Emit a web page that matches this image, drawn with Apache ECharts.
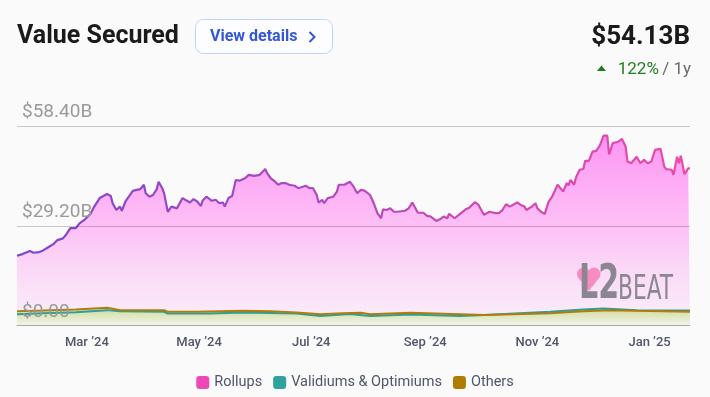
<!DOCTYPE html>
<html><head><meta charset="utf-8">
<script src="https://cdn.jsdelivr.net/npm/echarts@6/dist/echarts.min.js"></script>
<style>html,body{margin:0;padding:0;background:#fafafa;}#c{width:710px;height:397px;}</style>
</head><body><div id="c"></div>
<script>
// ---- data ----
const startDate = '2024-01-23';
const endDate = '2025-01-23';
const tickDates = ['2024-03-01','2024-05-01','2024-07-01','2024-09-01','2024-11-01','2025-01-01'];
const tickLabels = ['Mar \u201924','May \u201924','Jul \u201924','Sep \u201924','Nov \u201924','Jan \u201925'];
const yStep = 29.2;
const yMax = 58.4;
const yLabels = ['$0.00','$29.20B','$58.40B'];
const seriesNames = ['Rollups','Validiums & Optimiums','Others'];

const rollupDates = ['2024-01-23','2024-01-26','2024-01-30','2024-02-01','2024-02-04','2024-02-06','2024-02-09','2024-02-12','2024-02-14','2024-02-17',
'2024-02-19','2024-02-21','2024-02-24','2024-02-26','2024-02-29','2024-03-03','2024-03-05','2024-03-08','2024-03-10','2024-03-12',
'2024-03-14','2024-03-15','2024-03-17','2024-03-19','2024-03-20','2024-03-22','2024-03-23','2024-03-26','2024-03-28','2024-03-30',
'2024-04-01','2024-04-02','2024-04-04','2024-04-06','2024-04-08','2024-04-09','2024-04-11','2024-04-12','2024-04-14','2024-04-16',
'2024-04-19','2024-04-22','2024-04-23','2024-04-26','2024-04-28','2024-04-30','2024-05-02','2024-05-03','2024-05-05','2024-05-08',
'2024-05-10','2024-05-12','2024-05-14','2024-05-15','2024-05-17','2024-05-19','2024-05-21','2024-05-23','2024-05-26','2024-05-28',
'2024-05-31','2024-06-03','2024-06-06','2024-06-07','2024-06-09','2024-06-11','2024-06-13','2024-06-15','2024-06-17','2024-06-19',
'2024-06-22','2024-06-24','2024-06-28','2024-06-30','2024-07-02','2024-07-04','2024-07-05','2024-07-07','2024-07-08','2024-07-10',
'2024-07-13','2024-07-15','2024-07-16','2024-07-19','2024-07-22','2024-07-24','2024-07-26','2024-07-28','2024-07-30','2024-08-02',
'2024-08-04','2024-08-06','2024-08-08','2024-08-09','2024-08-11','2024-08-13','2024-08-15','2024-08-17','2024-08-21','2024-08-23',
'2024-08-25','2024-08-26','2024-08-28','2024-08-31','2024-09-02','2024-09-04','2024-09-07','2024-09-09','2024-09-11','2024-09-13',
'2024-09-14','2024-09-17','2024-09-20','2024-09-23','2024-09-25','2024-09-28','2024-09-30','2024-10-02','2024-10-03','2024-10-06',
'2024-10-09','2024-10-11','2024-10-13','2024-10-15','2024-10-17','2024-10-21','2024-10-23','2024-10-25','2024-10-26','2024-10-29',
'2024-10-31','2024-11-01','2024-11-03','2024-11-05','2024-11-07','2024-11-09','2024-11-12','2024-11-14','2024-11-15','2024-11-17',
'2024-11-18','2024-11-19','2024-11-21','2024-11-22','2024-11-24','2024-11-26','2024-11-27','2024-11-29','2024-12-01','2024-12-03',
'2024-12-05','2024-12-07','2024-12-09','2024-12-10','2024-12-11','2024-12-12','2024-12-15','2024-12-17','2024-12-19','2024-12-20',
'2024-12-22','2024-12-25','2024-12-26','2024-12-27','2024-12-29','2024-12-31','2025-01-02','2025-01-04','2025-01-07','2025-01-09',
'2025-01-10','2025-01-13','2025-01-14','2025-01-16','2025-01-17','2025-01-18','2025-01-20','2025-01-22','2025-01-23'];
const rollupValues = [20.4,20.9,21.8,21.3,21.5,21.9,22.9,23.9,25.0,25.5,
26.8,28.5,28.5,29.9,31.1,32.7,34.8,37.3,37.9,38.5,
37.9,35.8,33.8,34.8,33.6,36.3,35.8,39.4,39.7,39.9,
41.2,38.7,37.7,38.2,39.9,42.1,40.2,38.7,33.3,34.8,
34.3,37.3,37.6,36.0,37.0,36.3,35.0,36.6,37.7,36.5,
36.8,35.8,36.0,34.8,37.3,37.9,42.6,42.4,43.1,44.1,
43.8,44.1,45.8,44.6,43.1,42.3,41.2,41.7,41.7,41.2,
40.9,40.2,40.9,40.2,40.2,38.2,36.0,36.8,35.8,37.3,
37.7,39.2,41.2,41.2,42.1,40.7,38.7,39.7,39.5,38.2,
35.8,32.9,31.4,34.0,33.8,34.3,33.3,33.3,33.6,34.3,
36.0,35.0,33.0,33.0,32.1,31.9,30.6,31.1,31.9,31.4,
32.7,31.4,32.7,34.0,34.5,36.1,35.3,33.3,32.4,33.3,
32.9,32.9,33.8,35.5,34.8,36.0,35.3,34.8,33.8,34.8,
35.8,34.3,33.3,32.6,36.1,37.7,41.2,39.9,39.2,41.7,
41.0,42.6,41.2,43.3,45.6,45.8,48.2,48.2,50.9,51.1,
52.7,55.6,55.6,50.1,49.7,53.4,53.8,54.6,52.4,48.0,
47.5,49.4,49.4,47.5,48.5,47.5,48.0,51.4,51.7,46.5,
45.8,45.6,44.1,49.4,47.5,49.7,44.3,46.0,46.0];

const validiumDates = ['2024-01-23','2024-02-06','2024-02-24','2024-03-12','2024-03-19','2024-04-12','2024-04-14','2024-05-07','2024-05-25','2024-06-23',
'2024-07-06','2024-07-22','2024-08-02','2024-08-24','2024-09-20','2024-10-03','2024-11-08','2024-11-26','2024-12-07','2024-12-25','2025-01-23'];
const validiumValues = [3.3,3.6,3.9,4.5,4.2,4.0,3.5,3.5,3.8,3.5,
2.8,3.4,2.8,3.2,2.8,3.1,4.0,4.7,5.0,4.5,4.4];

const othersDates = ['2024-01-23','2024-02-06','2024-02-24','2024-03-12','2024-03-15','2024-03-19','2024-04-01','2024-04-12','2024-04-14','2024-04-30',
'2024-05-25','2024-06-09','2024-06-23','2024-07-06','2024-07-18','2024-07-28','2024-08-02','2024-08-24','2024-09-20','2024-10-03',
'2024-11-08','2024-11-26','2024-12-10','2024-12-25','2025-01-23'];
const othersValues = [4.2,4.4,4.7,5.2,4.9,4.5,4.5,4.5,4.0,4.0,
4.3,4.2,3.8,3.3,3.6,3.7,3.3,3.7,3.3,3.1,
3.6,4.2,4.5,4.3,4.0];

// ---- helpers ----
function ts(s){const p=s.split('-');return new Date(+p[0],+p[1]-1,+p[2]).getTime();}
function pairs(ds,vs){return ds.map((d,i)=>[ts(d),vs[i]]);}
const tickTs = tickDates.map(ts);

const chart = echarts.init(document.getElementById('c'), null, {renderer:'canvas'});
const greenArea = {type:'linear',x:0,y:0,x2:0,y2:1,colorStops:[{offset:0,color:'rgba(208,218,150,1)'},{offset:1,color:'rgba(238,246,232,1)'}]};

const option = {
  backgroundColor:'#fafafa',
  animation:false,
  textStyle:{fontFamily:'Roboto'},
  grid:{left:17,right:20,top:126,bottom:71.5},
  xAxis:{
    type:'value', min:ts(startDate), max:ts(endDate),
    axisLine:{show:true,onZero:false,lineStyle:{color:'#c2c2c2',width:1}},
    axisTick:{show:false},
    splitLine:{show:false},
    axisLabel:{customValues:tickTs, formatter:function(v){const i=tickTs.indexOf(v);return i>=0?tickLabels[i]:'';},
      color:'#50566a', fontSize:13, fontWeight:500, margin:11, fontFamily:'Roboto'}
  },
  yAxis:{
    type:'value', min:0, max:yMax, interval:yStep, z:5,
    axisLine:{show:false}, axisTick:{show:false},
    splitLine:{lineStyle:{color:'rgba(0,0,0,0.2)',width:1}},
    axisLabel:{inside:true, verticalAlign:'bottom', margin:5, padding:[0,0,4,0], color:'#9a9a9a', fontSize:19, fontFamily:'Roboto',
      formatter:function(v){return yLabels[Math.round(v/yStep)];}}
  },
  legend:{
    data:seriesNames, left:'center', top:370, icon:'roundRect', itemWidth:13, itemHeight:13, itemGap:11,
    textStyle:{fontSize:14.5, color:'#50566a', fontFamily:'Roboto'}
  },
  series:[
    {name:'Rollups', type:'line', data:pairs(rollupDates,rollupValues), symbol:'none', z:2,
      itemStyle:{color:'#ee47b6'},
      lineStyle:{width:2.2, color:{type:'linear',x:0,y:0,x2:1,y2:0,colorStops:[{offset:0,color:'#7b47cf'},{offset:0.5,color:'#b44abe'},{offset:1,color:'#ee4aa7'}]}},
      areaStyle:{color:{type:'linear',x:0,y:0,x2:0,y2:1,colorStops:[{offset:0,color:'rgba(255,96,240,0.95)'},{offset:0.5,color:'rgba(255,150,242,0.8)'},{offset:1,color:'rgba(248,200,244,0.35)'}]}}
    },
    {type:'line', data:pairs(othersDates,othersValues), symbol:'none', z:3, lineStyle:{width:0}, itemStyle:{color:'#b07d0a'}, areaStyle:{color:greenArea}},
    {type:'line', data:pairs(validiumDates,validiumValues), symbol:'none', z:3, lineStyle:{width:0}, itemStyle:{color:'#2a9f9b'}, areaStyle:{color:greenArea}},
    {name:'Validiums & Optimiums', type:'line', data:pairs(validiumDates,validiumValues), symbol:'none', z:4,
      itemStyle:{color:'#2fa29e'}, lineStyle:{width:2,color:'#2a9f9b'}},
    {name:'Others', type:'line', data:pairs(othersDates,othersValues), symbol:'none', z:4,
      itemStyle:{color:'#b07c00'}, lineStyle:{width:2,color:'#b07d0a'}}
  ],
  graphic:[
    {type:'text', x:17, y:37, z:100, style:{text:'Value Secured', font:'bold 25px Roboto', fill:'#1a1a1a', verticalAlign:'middle'}},
    {type:'rect', x:195.5, y:19.5, z:100, shape:{width:137,height:34,r:8}, style:{fill:'#fdfdff', stroke:'#bfd2fa', lineWidth:1}},
    {type:'text', x:210, y:37, z:101, style:{text:'View details', font:'bold 16px Roboto', fill:'#3457d5', verticalAlign:'middle'}},
    {type:'polyline', z:101, shape:{points:[[309.5,32],[314.5,37],[309.5,42]]}, style:{stroke:'#3457d5', lineWidth:2, fill:null}},
    {type:'text', x:690, y:37, z:100, style:{text:'$54.13B', font:'bold 26px Roboto', fill:'#1a1a1a', align:'right', verticalAlign:'middle'}},
    {type:'polygon', z:100, shape:{points:[[597,71],[606,71],[601.5,65.5]]}, style:{fill:'#1b7d1b'}},
    {type:'text', x:691, y:70, z:100, style:{text:'{g|122%} {s|/ 1y}', align:'right', verticalAlign:'middle',
      rich:{g:{fontSize:17, fontFamily:'Roboto', fill:'#1e7e1e'}, s:{fontSize:17, fontFamily:'Roboto', fill:'#6b6b6b'}}}},
    {type:'circle', z:50, shape:{cx:583.5, cy:274, r:6.5}, style:{fill:'#f78cc0'}},
    {type:'circle', z:50, shape:{cx:594, cy:274, r:6.5}, style:{fill:'#f78cc0'}},
    {type:'polygon', z:50, shape:{points:[[577.3,276.5],[600.2,276.5],[588.8,291]]}, style:{fill:'#f78cc0'}},
    {type:'text', x:579, y:286, z:51, scaleX:0.88, scaleY:1.25, style:{text:'L2', font:'bold 38px "DejaVu Sans Condensed", "DejaVu Sans"', fill:'#8a8791', verticalAlign:'middle'}},
    {type:'text', x:618, y:290, z:51, scaleX:0.93, scaleY:1.3, style:{text:'BEAT', font:'26px "Liberation Sans Narrow", "DejaVu Sans Condensed"', fill:'#8a8791', verticalAlign:'middle'}}
  ]
};
chart.setOption(option);
</script>
</body></html>
